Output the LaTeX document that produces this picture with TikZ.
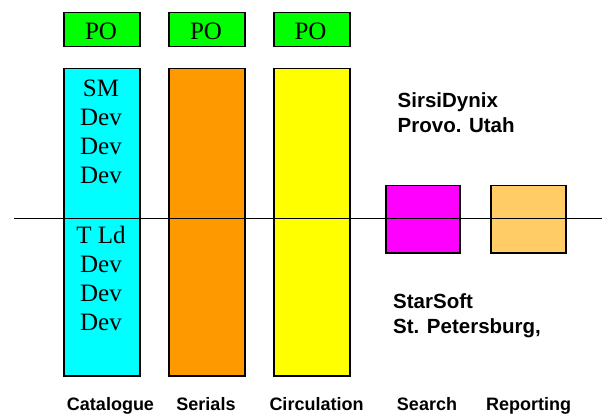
\documentclass[tikz,border=0pt]{standalone}
\usepackage{fontspec}
\setmainfont{Liberation Serif}
\setsansfont{Liberation Sans}
\definecolor{pogreen}{HTML}{00FF00}
\definecolor{catcyan}{HTML}{00FFFF}
\definecolor{serorange}{HTML}{FF9900}
\definecolor{circyellow}{HTML}{FFFF00}
\definecolor{srchmag}{HTML}{FF00FF}
\definecolor{repor}{HTML}{FFCC66}
\begin{document}
\begin{tikzpicture}[x=1pt,y=-1pt,
  box/.style={draw=black, line width=1.5pt, inner sep=0pt, anchor=north west},
  serif/.style={font=\fontsize{25}{29}\selectfont, inner sep=0pt, anchor=base},
  lbl/.style={font=\sffamily\bfseries\fontsize{18}{21}\selectfont, inner sep=0pt, anchor=base},
  site/.style={font=\sffamily\bfseries\fontsize{20.5}{25}\selectfont, inner sep=0pt, anchor=base west}]
\useasboundingbox (0,0) rectangle (602,414);
% PO boxes
\node[box, fill=pogreen, minimum width=76pt, minimum height=34pt] (po1) at (63,12) {};
\node[box, fill=pogreen, minimum width=76pt, minimum height=34pt] (po2) at (168,12) {};
\node[box, fill=pogreen, minimum width=76pt, minimum height=34pt] (po3) at (273,12) {};
\node[serif] (pot1) at (101,40) {PO};
\node[serif] (pot2) at (206,40) {PO};
\node[serif] (pot3) at (310.5,40) {PO};
% tall boxes
\node[box, fill=catcyan, minimum width=76pt, minimum height=307pt] (cat) at (63,68) {};
\node[box, fill=serorange, minimum width=76pt, minimum height=307pt] (ser) at (168,68) {};
\node[box, fill=circyellow, minimum width=76pt, minimum height=307pt] (cir) at (273,68) {};
% search / reporting
\node[box, fill=srchmag, minimum width=74pt, minimum height=67pt] (srch) at (385,185) {};
\node[box, fill=repor, minimum width=75pt, minimum height=67pt] (rep) at (490,185) {};
% cyan texts
\node[serif] (t1) at (101,96.7) {SM};
\node[serif] (t2) at (101,126) {Dev};
\node[serif] (t3) at (101,155) {Dev};
\node[serif] (t4) at (101,184) {Dev};
\node[serif] (t5) at (101,243.3) {T Ld};
\node[serif] (t6) at (101,272.5) {Dev};
\node[serif] (t7) at (101,301.5) {Dev};
\node[serif] (t8) at (101,330.5) {Dev};
% horizontal line
\coordinate (hl) at (14,218);
\coordinate (hr) at (602,218);
\draw[line width=1pt] (hl) -- (hr);
% site texts
\node[site] (sirsi1) at (397.5,107.4) {SirsiDynix};
\node[site] (sirsi2) at (397.5,132.2) {Provo. Utah};
\node[site] (star1) at (393,308.5) {StarSoft};
\node[site] (star2) at (393,333) {St. Petersburg,};
% bottom labels
\node[lbl] (lc) at (110.5,410) {Catalogue};
\node[lbl] (ls) at (206,410) {Serials};
\node[lbl] (lci) at (316.5,410) {Circulation};
\node[lbl] (lse) at (427,410) {Search};
\node[lbl] (lr) at (528.5,410) {Reporting};
\end{tikzpicture}
\end{document}
